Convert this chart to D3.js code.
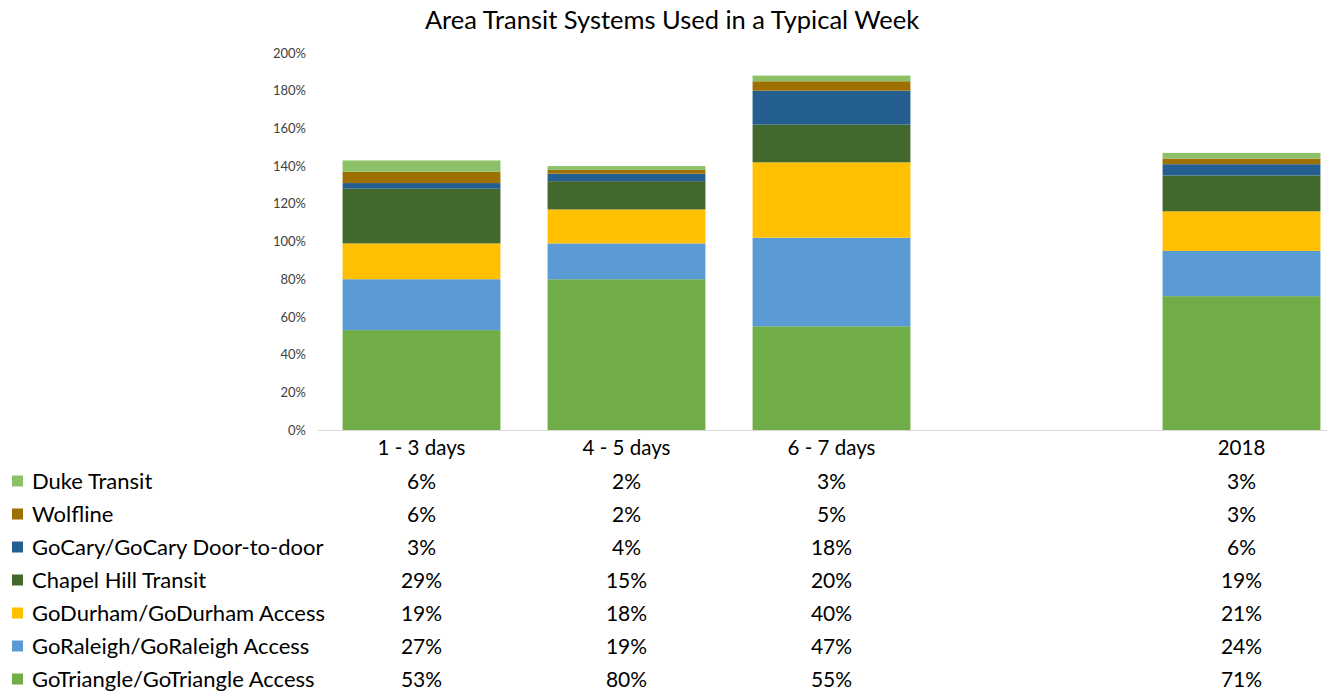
<!DOCTYPE html>
<html>
<head>
<meta charset="utf-8">
<script src="https://cdn.jsdelivr.net/npm/d3@7"></script>
<style>
  body { margin: 0; background: #fff; }
  text { font-family: Lato, "Open Sans", sans-serif; }
</style>
</head>
<body>
<div id="chart"></div>
<script>
// categories (the blank slot is an empty column in the original)
const categories = ["1 - 3 days", "4 - 5 days", "6 - 7 days", "", "2018"];

// series, bottom of the stack first
const seriesNames = [
  "GoTriangle/GoTriangle Access",
  "GoRaleigh/GoRaleigh Access",
  "GoDurham/GoDurham Access",
  "Chapel Hill Transit",
  "GoCary/GoCary Door-to-door",
  "Wolfline",
  "Duke Transit"
];
const goTriangle = [0.53, 0.80, 0.55, null, 0.71];
const goRaleigh  = [0.27, 0.19, 0.47, null, 0.24];
const goDurham   = [0.19, 0.18, 0.40, null, 0.21];
const chapelHill = [0.29, 0.15, 0.20, null, 0.19];
const goCary     = [0.03, 0.04, 0.18, null, 0.06];
const wolfline   = [0.06, 0.02, 0.05, null, 0.03];
const duke       = [0.06, 0.02, 0.03, null, 0.03];
const seriesValues = [goTriangle, goRaleigh, goDurham, chapelHill, goCary, wolfline, duke];
const seriesColors = ["#70AD47", "#5B9BD5", "#FFC000", "#43682B", "#255E91", "#9E7000", "#8CC168"];

const yTicks = [0, 0.2, 0.4, 0.6, 0.8, 1.0, 1.2, 1.4, 1.6, 1.8, 2.0];

const width = 1327;
const height = 696;

const svg = d3.select("#chart")
  .append("svg")
  .attr("width", width)
  .attr("height", height);

// build table for d3.stack
const table = categories.map((c, i) => {
  const row = { cat: i };
  seriesNames.forEach((s, j) => { row[s] = seriesValues[j][i] || 0; });
  return row;
});
const stacked = d3.stack().keys(seriesNames)(table);

const x = d3.scaleBand()
  .domain(d3.range(categories.length))
  .range([319, 1344])
  .paddingInner(0.23)
  .paddingOuter(0.115);

const y = d3.scaleLinear()
  .domain([0, 2])
  .range([430, 53]);

// title
svg.append("text")
  .attr("x", 672)
  .attr("y", 29)
  .attr("text-anchor", "middle")
  .attr("font-size", 25.5)
  .attr("fill", "#000")
  .text("Area Transit Systems Used in a Typical Week");

// y tick labels
const yAxis = svg.append("g")
  .attr("transform", "translate(306,0)")
  .call(d3.axisLeft(y).tickValues(yTicks).tickFormat(d3.format(".0%")).tickSize(0).tickPadding(0));
yAxis.select(".domain").remove();
yAxis.selectAll("text")
  .attr("font-size", 13)
  .attr("fill", "#404040")
  .style("font-family", "Lato, 'Open Sans', sans-serif");

// bars
svg.append("g")
  .selectAll("g")
  .data(stacked)
  .join("g")
  .attr("fill", (d, i) => seriesColors[i])
  .selectAll("rect")
  .data(d => d.filter(p => p[1] > p[0]))
  .join("rect")
  .attr("x", d => x(d.data.cat))
  .attr("width", x.bandwidth())
  .attr("y", d => y(d[1]))
  .attr("height", d => y(d[0]) - y(d[1]));

// x axis line
svg.append("line")
  .attr("x1", 318).attr("x2", width)
  .attr("y1", y(0) + 0.5).attr("y2", y(0) + 0.5)
  .attr("stroke", "#d9d9d9")
  .attr("stroke-width", 1);

// category labels
svg.append("g")
  .selectAll("text")
  .data(categories)
  .join("text")
  .attr("x", (d, i) => x(i) + x.bandwidth() / 2)
  .attr("y", 455)
  .attr("text-anchor", "middle")
  .attr("font-size", 20.5)
  .attr("fill", "#000")
  .text(d => d);

// data table, top row is the top of the stack
const rowY = d3.scaleBand()
  .domain(d3.range(seriesNames.length).reverse())
  .range([465, 696]);

const rows = svg.append("g")
  .selectAll("g")
  .data(seriesNames.map((s, j) => ({ name: s, idx: j })))
  .join("g")
  .attr("transform", d => `translate(0,${rowY(d.idx) + rowY.bandwidth() / 2})`);

rows.append("rect")
  .attr("x", 12)
  .attr("y", -6)
  .attr("width", 11)
  .attr("height", 11)
  .attr("fill", d => seriesColors[d.idx]);

rows.append("text")
  .attr("x", 32)
  .attr("y", 7.5)
  .attr("font-size", 22)
  .attr("fill", "#000")
  .text(d => d.name);

rows.selectAll("text.val")
  .data(d => seriesValues[d.idx].map((v, i) => ({ v: v, i: i })).filter(e => e.v != null))
  .join("text")
  .attr("class", "val")
  .attr("x", e => x(e.i) + x.bandwidth() / 2)
  .attr("y", 7.5)
  .attr("text-anchor", "middle")
  .attr("font-size", 21)
  .attr("fill", "#000")
  .text(e => d3.format(".0%")(e.v));
</script>
</body>
</html>
